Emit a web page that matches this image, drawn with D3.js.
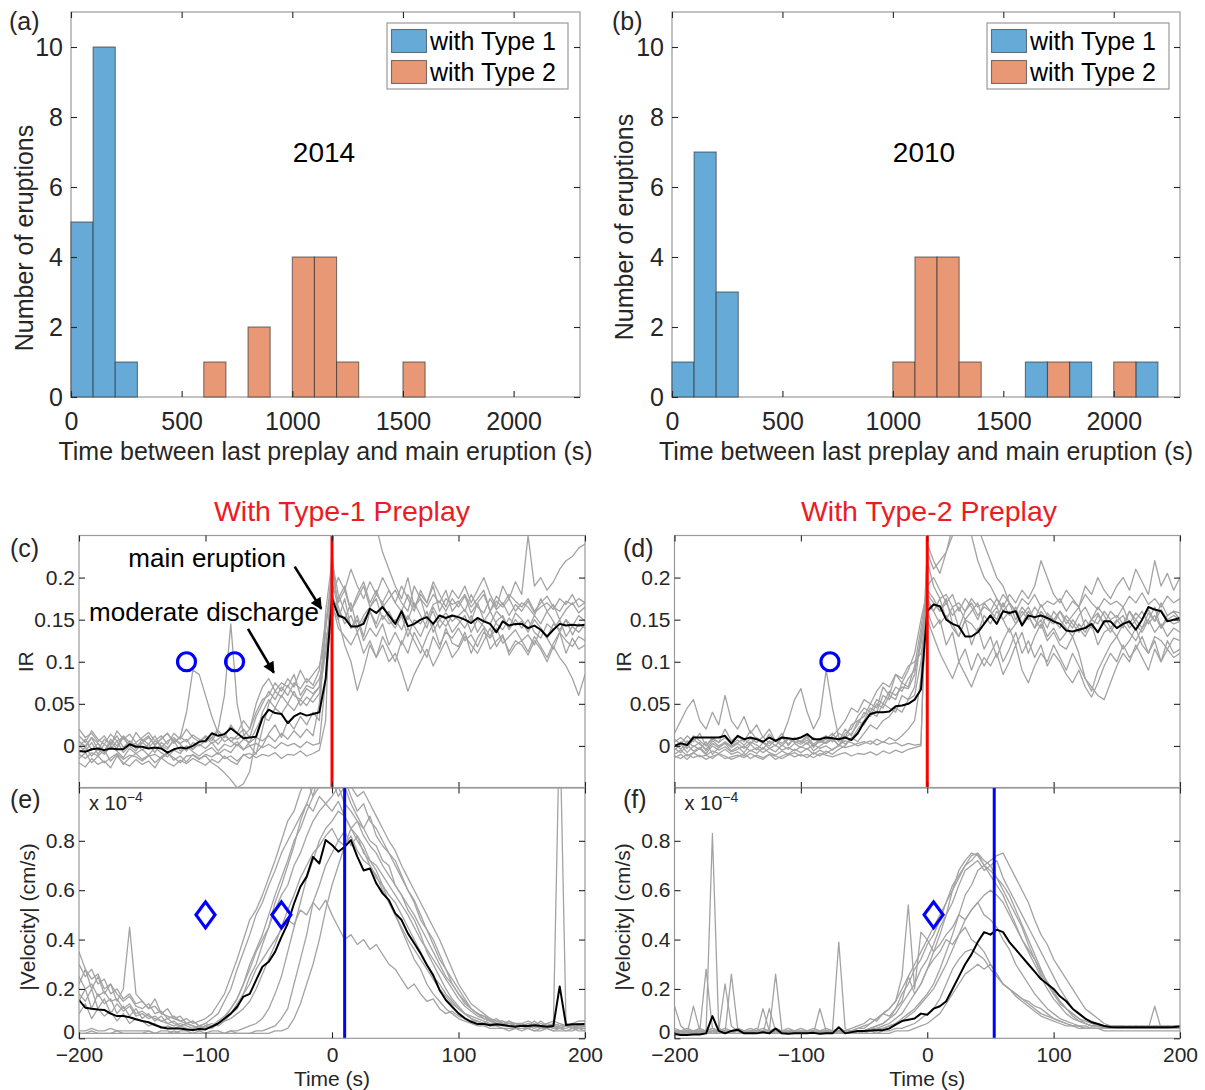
<!DOCTYPE html>
<html>
<head>
<meta charset="utf-8">
<script src="https://cdnjs.cloudflare.com/ajax/libs/d3/7.8.5/d3.min.js"></script>
<style>
  body { margin: 0; background: #fff; }
  svg text { font-family: "Liberation Sans", Arial, Helvetica, sans-serif; }
</style>
</head>
<body>
<div id="fig"></div>
<script>

// ---- histograms (a) 2014 and (b) 2010, bins of 100 s, left edges ----
const binWidth = 100;
const a_type1_start = [0, 100, 200];
const a_type1_count = [5, 10, 1];
const a_type2_start = [600, 800, 1000, 1100, 1200, 1500];
const a_type2_count = [1, 2, 4, 4, 1, 1];
const b_type1_start = [0, 100, 200, 1600, 1800, 2100];
const b_type1_count = [1, 7, 3, 1, 1, 1];
const b_type2_start = [1000, 1100, 1200, 1300, 1700, 2000];
const b_type2_count = [1, 4, 4, 1, 1, 1];
const histXTicks = [0, 500, 1000, 1500, 2000];
const histYTicks = [0, 2, 4, 6, 8, 10];
const legendLabels = ["with Type 1", "with Type 2"];

// ---- time series, sampled every 5 s from -200 to 200 s ----
const time = d3.range(-200, 205, 5);
const timeTicks = [-200, -100, 0, 100, 200];
const irTicks = [0, 0.05, 0.1, 0.15, 0.2];
const velTicks = [0, 0.2, 0.4, 0.6, 0.8];

// (c) IR, eruptions with type-1 preplay
const irType1Mean = [
  -.006,-.007,-.004,-.003,-.005,-.003,-.004,-.004,.002,-.001,
  -.001,-.003,-.002,-.003,-.008,-.004,-.002,-.003,.000,.005,
  .006,.015,.012,.014,.021,.015,.009,.010,.011,.033,
  .043,.039,.038,.027,.035,.039,.036,.038,.040,.080,
  .175,.155,.152,.142,.142,.145,.163,.158,.165,.155,
  .145,.160,.142,.145,.150,.153,.145,.155,.152,.155,
  .153,.150,.146,.152,.148,.145,.135,.148,.143,.145,
  .145,.140,.143,.138,.130,.138,.145,.143,.144,.143,
  .144];
const irType1Runs = [
  [-.010,-.015,-.008,-.012,-.020,-.014,-.009,-.016,-.011,-.013,
   -.018,-.012,-.010,-.015,-.009,-.014,-.020,-.012,-.011,-.016,
   -.010,-.013,-.008,-.015,-.012,-.018,-.011,-.009,-.014,-.010,
   -.012,-.008,-.015,-.010,-.011,-.006,-.012,-.009,-.005,.030,
   .240,.280,.300,.270,.290,.310,.280,.260,.230,.210,
   .190,.175,.200,.165,.180,.170,.190,.160,.175,.168,
   .172,.160,.180,.165,.158,.175,.162,.170,.155,.168,
   .160,.172,.158,.165,.170,.162,.175,.168,.180,.165,
   .170],
  [.005,.000,.010,-.005,.008,.002,.012,-.002,.006,.000,
   .004,.010,.002,.008,.015,.005,.010,.040,.090,.085,
   .060,.035,.015,.005,.010,.008,.012,.020,.050,.070,
   .080,.065,.075,.070,.085,.060,.072,.068,.080,.110,
   .180,.160,.150,.170,.140,.155,.165,.175,.150,.160,
   .145,.160,.150,.170,.155,.140,.165,.150,.158,.148,
   .155,.162,.148,.170,.150,.145,.160,.152,.140,.158,
   .150,.138,.155,.145,.160,.148,.135,.150,.142,.155,
   .148],
  [-.002,.008,-.005,.003,-.008,.005,-.003,.010,.000,-.006,
   .004,-.002,.006,.000,-.004,.008,.002,-.006,.004,.000,
   .006,.010,.020,.060,.145,.050,.015,.000,-.010,.020,
   .050,.065,.058,.072,.060,.055,.068,.062,.070,.140,
   .210,.170,.185,.160,.175,.190,.165,.180,.170,.185,
   .170,.160,.180,.165,.175,.150,.168,.172,.160,.175,
   .165,.178,.158,.170,.180,.160,.172,.165,.175,.160,
   .170,.165,.155,.175,.160,.168,.150,.162,.170,.158,
   .165],
  [-.015,-.008,-.020,-.012,-.005,-.018,-.010,-.022,-.014,-.009,
   -.016,-.011,-.020,-.013,-.008,-.017,-.012,-.019,-.010,-.015,
   -.012,-.020,-.025,-.032,-.040,-.050,-.045,-.030,.010,.040,
   .055,.045,.060,.050,.065,.048,.058,.052,.062,.110,
   .165,.150,.175,.140,.155,.130,.160,.145,.170,.150,
   .140,.155,.130,.150,.145,.160,.135,.150,.142,.155,
   .150,.140,.155,.135,.148,.160,.145,.138,.152,.143,
   .148,.135,.150,.140,.128,.145,.138,.150,.132,.145,
   .140],
  [.000,-.006,.004,-.010,.002,-.004,.006,-.008,.000,.003,
   -.005,.002,-.008,.004,-.002,.006,-.006,.000,-.004,.002,
   -.003,.004,-.006,.002,-.001,.005,-.004,.000,.003,-.002,
   .002,-.003,.004,.000,.003,-.002,.005,.001,.003,.080,
   .230,.150,.120,.100,.066,.090,.120,.105,.130,.115,
   .100,.125,.110,.135,.120,.105,.130,.115,.140,.122,
   .118,.135,.110,.128,.140,.115,.125,.132,.108,.120,
   .125,.112,.130,.118,.105,.122,.135,.110,.128,.115,
   .120],
  [.020,.010,.015,.005,.012,.000,.018,.008,.014,.004,
   .010,.016,.006,.012,.002,.015,.008,.020,.010,.005,
   .012,.006,.018,.010,.025,.015,.030,.020,.040,.055,
   .060,.075,.065,.080,.070,.090,.075,.085,.095,.130,
   .150,.175,.190,.160,.180,.195,.170,.185,.165,.175,
   .185,.170,.160,.190,.175,.165,.180,.170,.185,.160,
   .170,.180,.165,.175,.185,.160,.178,.168,.180,.172,
   .165,.175,.160,.170,.178,.165,.160,.172,.168,.175,
   .170],
  [-.008,-.002,-.012,-.004,-.010,.000,-.006,-.014,-.003,-.009,
   -.004,-.011,-.002,-.008,-.013,-.005,-.009,.000,-.007,-.012,
   -.006,-.002,-.010,-.004,-.008,.002,-.005,.005,.020,.035,
   .030,.045,.038,.050,.042,.055,.048,.060,.070,.120,
   .170,.140,.130,.120,.135,.110,.125,.105,.120,.100,
   .110,.090,.065,.085,.100,.115,.095,.110,.125,.105,
   .115,.130,.120,.110,.125,.140,.118,.130,.112,.125,
   .120,.108,.125,.115,.100,.118,.105,.095,.080,.060,
   .085],
  [.006,-.002,.010,.003,-.006,.008,.000,.012,.004,-.003,
   .008,.002,.012,-.002,.006,.010,.003,.008,-.004,.005,
   .010,.003,.008,.015,.005,.012,.020,.010,.035,.050,
   .065,.055,.070,.060,.075,.068,.080,.072,.090,.150,
   .180,.200,.185,.210,.190,.175,.195,.180,.200,.185,
   .170,.190,.175,.160,.185,.170,.195,.180,.165,.185,
   .175,.190,.170,.185,.200,.180,.165,.190,.175,.195,
   .180,.250,.190,.200,.185,.195,.210,.220,.225,.235,
   .240],
  [-.020,-.025,-.015,-.022,-.018,-.026,-.012,-.020,-.024,-.016,
   -.022,-.018,-.026,-.014,-.020,-.024,-.017,-.021,-.015,-.019,
   -.023,-.016,-.020,-.012,-.018,-.022,-.010,-.015,-.008,.000,
   .015,.025,.010,.030,.020,.035,.025,.040,.030,.160,
   .220,.180,.160,.140,.150,.125,.140,.130,.145,.120,
   .135,.120,.140,.125,.110,.130,.145,.120,.135,.128,
   .140,.125,.132,.118,.135,.128,.140,.122,.130,.138,
   .125,.132,.120,.140,.128,.115,.135,.125,.118,.130,
   .125],
  [.012,.004,.018,.008,.002,.014,.006,.010,.000,.016,
   .006,.012,.000,.009,.015,.003,.011,.005,.013,.008,
   .004,.010,.002,.012,.006,.000,.008,.004,.010,.006,
   .012,.005,.015,.008,.018,.010,.020,.012,.050,.140,
   .195,.165,.145,.155,.135,.150,.160,.140,.155,.145,
   .150,.138,.155,.142,.130,.148,.160,.140,.152,.135,
   .145,.155,.135,.150,.142,.130,.148,.155,.138,.150,
   .140,.150,.135,.128,.145,.138,.150,.130,.142,.135,
   .145]
];

// (d) IR, eruptions with type-2 preplay
const irType2Mean = [
  .000,.003,.001,.010,.010,.010,.010,.010,.012,.003,
  .012,.008,.010,.008,.005,.010,.006,.010,.009,.008,
  .010,.014,.008,.008,.010,.009,.008,.010,.007,.015,
  .028,.038,.040,.040,.041,.047,.048,.050,.055,.067,
  .160,.168,.166,.150,.145,.142,.130,.130,.135,.145,
  .155,.145,.160,.158,.160,.143,.155,.153,.155,.152,
  .148,.145,.137,.136,.138,.140,.145,.135,.148,.148,
  .140,.145,.148,.138,.150,.165,.162,.160,.148,.150,
  .152];
const irType2Runs = [
  [-.012,-.015,-.010,-.014,-.011,-.016,-.012,-.010,-.015,-.013,
   -.011,-.014,-.009,-.013,-.016,-.010,-.012,-.015,-.011,-.008,
   -.012,-.010,-.014,-.009,-.011,-.013,-.010,-.008,-.012,-.009,
   -.010,-.007,-.011,-.006,-.009,-.005,-.008,-.004,-.002,.000,
   .240,.220,.205,.230,.260,.280,.270,.250,.220,.200,
   .190,.175,.160,.170,.150,.165,.155,.140,.160,.150,
   .145,.160,.150,.140,.155,.165,.150,.145,.160,.150,
   .155,.145,.160,.150,.140,.158,.148,.162,.150,.155,
   .150],
  [.000,.005,-.003,.008,.002,-.004,.006,.000,.004,-.002,
   .003,-.003,.005,.001,-.004,.006,.000,.010,.030,.055,
   .068,.040,.020,.035,.090,.045,.010,.002,.008,.020,
   .030,.045,.040,.060,.055,.070,.065,.080,.090,.120,
   .170,.160,.175,.150,.165,.140,.160,.170,.155,.165,
   .160,.150,.170,.155,.165,.145,.160,.150,.168,.155,
   .150,.160,.145,.155,.165,.140,.150,.158,.145,.160,
   .152,.165,.145,.158,.150,.162,.148,.170,.155,.160,
   .158],
  [.015,.030,.045,.055,.030,.020,.040,.025,.060,.030,
   .020,.035,.015,.025,.010,.020,.005,.015,.000,.010,
   .005,.012,-.002,.008,.003,.010,.000,.015,.020,.035,
   .045,.040,.055,.050,.065,.060,.070,.068,.085,.130,
   .180,.170,.160,.175,.145,.130,.150,.120,.140,.115,
   .130,.105,.125,.140,.120,.135,.110,.130,.145,.125,
   .135,.120,.115,.130,.110,.080,.065,.090,.105,.120,
   .130,.115,.125,.140,.120,.110,.130,.125,.115,.128,
   .125],
  [-.005,.002,-.008,.000,-.004,.005,-.010,-.002,.003,-.006,
   -.001,-.008,.002,-.005,.004,-.003,-.007,.001,-.004,.003,
   -.002,.004,-.006,.000,.005,.012,.020,.030,.045,.040,
   .055,.050,.065,.075,.070,.085,.080,.095,.100,.110,
   .150,.130,.110,.095,.080,.100,.085,.070,.090,.105,
   .095,.110,.085,.100,.120,.090,.075,.095,.110,.100,
   .120,.105,.090,.110,.095,.080,.070,.060,.055,.075,
   .095,.110,.100,.120,.105,.090,.115,.100,.125,.110,
   .115],
  [.005,.010,.003,.012,.006,.000,.008,.004,.010,.002,
   .007,.001,.009,.004,.011,.003,.006,.000,.008,.005,
   .002,.007,.000,.005,.003,.008,.001,.006,.004,.000,
   .003,.006,.001,.005,.002,.004,.000,.003,.001,.002,
   .220,.190,.175,.180,.165,.170,.160,.175,.165,.170,
   .175,.165,.180,.170,.160,.175,.168,.180,.165,.172,
   .168,.175,.160,.172,.165,.180,.170,.162,.175,.168,
   .172,.165,.178,.170,.182,.168,.175,.165,.178,.170,
   .175],
  [-.010,-.005,-.012,-.008,-.003,-.011,-.006,-.009,-.004,-.010,
   -.007,-.012,-.005,-.009,-.002,-.008,-.011,-.006,-.010,-.004,
   -.008,-.003,-.010,-.005,-.009,-.004,.000,.010,.015,.025,
   .040,.035,.050,.045,.060,.055,.075,.070,.095,.140,
   .190,.200,.185,.170,.180,.160,.175,.165,.150,.170,
   .160,.175,.165,.180,.170,.185,.175,.190,.220,.200,
   .180,.170,.185,.175,.165,.190,.180,.200,.185,.175,
   .190,.200,.185,.210,.195,.180,.220,.190,.205,.185,
   .200],
  [-.014,-.010,-.016,-.008,-.013,-.011,-.015,-.009,-.012,-.016,
   -.013,-.009,-.015,-.011,-.014,-.010,-.016,-.012,-.009,-.013,
   -.010,-.014,-.008,-.012,-.006,-.010,-.004,.000,.010,.005,
   .015,.025,.020,.030,.035,.045,.040,.055,.060,.100,
   .160,.140,.150,.120,.135,.100,.115,.090,.110,.095,
   .110,.125,.100,.115,.135,.110,.125,.105,.120,.095,
   .110,.100,.085,.075,.090,.070,.058,.075,.095,.110,
   .100,.120,.105,.115,.130,.110,.125,.100,.115,.105,
   .110],
  [.008,.002,.012,.005,.015,.000,.010,.004,.020,.006,
   .012,.005,.018,.008,.003,.014,.006,.010,.002,.009,
   .004,.010,.002,.008,.012,.005,.015,.010,.025,.030,
   .035,.050,.045,.070,.060,.085,.075,.090,.110,.150,
   .185,.175,.160,.170,.155,.165,.150,.160,.170,.145,
   .155,.165,.150,.160,.145,.155,.165,.150,.140,.158,
   .150,.140,.155,.145,.135,.150,.140,.155,.145,.135,
   .148,.155,.140,.150,.160,.145,.155,.140,.150,.145,
   .148],
  [-.003,-.008,.001,-.006,-.002,-.009,.000,-.005,-.001,-.007,
   -.004,.000,-.006,-.002,-.008,-.003,.001,-.005,-.002,-.006,
   -.001,-.004,.002,-.003,.000,-.005,.001,-.002,.000,.003,
   .005,.002,.008,.004,.010,.006,.012,.020,.030,.080,
   .230,.210,.220,.230,.250,.270,.290,.280,.260,.240,
   .220,.200,.190,.170,.160,.145,.155,.140,.150,.130,
   .140,.125,.135,.150,.140,.130,.145,.120,.135,.140,
   .130,.145,.135,.125,.140,.150,.135,.145,.130,.140,
   .135],
  [.002,-.004,.006,-.001,.004,-.006,.003,-.002,.005,.000,
   .004,.008,.002,.010,.005,.000,.007,.003,.009,.004,
   .006,.002,.010,.004,.008,.015,.005,.020,.012,.030,
   .025,.040,.035,.050,.045,.040,.060,.055,.070,.130,
   .175,.160,.145,.155,.140,.130,.150,.145,.135,.155,
   .145,.160,.150,.135,.145,.160,.150,.165,.155,.140,
   .160,.150,.140,.130,.145,.135,.150,.165,.155,.140,
   .150,.140,.160,.145,.135,.150,.165,.140,.155,.160,
   .150]
];

// (e) |velocity| in 1e-4 cm/s, type-1 preplay
const velType1Mean = [
  .155,.124,.120,.117,.115,.100,.090,.090,.085,.077,
  .070,.065,.054,.045,.040,.040,.040,.036,.034,.038,
  .036,.047,.060,.080,.100,.128,.169,.180,.236,.290,
  .310,.350,.410,.465,.546,.614,.655,.735,.708,.803,
  .783,.756,.776,.803,.736,.680,.688,.628,.587,.560,
  .506,.479,.425,.385,.344,.297,.256,.196,.155,.128,
  .101,.081,.067,.058,.058,.053,.057,.054,.050,.047,
  .051,.050,.053,.050,.047,.050,.210,.054,.057,.057,
  .058];
const velType1Runs = [
  [.30,.25,.28,.22,.24,.18,.20,.16,.18,.14,
   .15,.12,.13,.10,.09,.08,.07,.08,.06,.07,
   .08,.10,.14,.18,.25,.32,.40,.48,.52,.58,
   .65,.72,.80,.88,.92,1.00,1.05,.98,1.08,1.02,
   1.05,.98,1.02,.95,.90,.85,.80,.78,.72,.70,
   .62,.58,.52,.48,.42,.35,.30,.25,.20,.16,
   .13,.10,.08,.07,.06,.08,.06,.05,.07,.05,
   .06,.05,.07,.05,.06,.05,.04,.05,.05,.04,
   .05],
  [.22,.28,.20,.25,.18,.22,.15,.20,.45,.18,
   .15,.12,.16,.10,.12,.08,.09,.06,.07,.05,
   .06,.05,.07,.09,.12,.16,.22,.28,.35,.40,
   .45,.52,.58,.62,.70,.75,.82,.88,.92,.95,
   .98,1.02,.95,.92,.88,.85,.90,.82,.78,.75,
   .70,.65,.60,.55,.48,.44,.38,.32,.28,.22,
   .18,.15,.12,.10,.09,.07,.08,.06,.07,.06,
   .05,.06,.05,.07,.05,.06,.05,.05,.06,.05,
   .05],
  [.02,.02,.03,.02,.02,.02,.03,.02,.02,.02,
   .02,.03,.02,.02,.02,.03,.02,.02,.02,.02,
   .02,.02,.02,.02,.03,.02,.02,.02,.03,.03,
   .04,.05,.08,.12,.22,.32,.42,.55,.62,.70,
   .75,.80,.78,.82,.76,.72,.70,.65,.62,.58,
   .55,.50,.45,.40,.35,.30,.25,.22,.18,.15,
   .12,.10,.08,.07,.06,.05,.05,.04,.04,.04,
   .04,.04,.03,.04,.04,.03,.04,.03,.03,.04,
   .03],
  [.10,.14,.08,.12,.09,.11,.07,.10,.06,.08,
   .07,.05,.06,.04,.05,.04,.05,.04,.03,.04,
   .04,.05,.06,.08,.10,.14,.18,.22,.28,.32,
   .36,.40,.44,.48,.46,.52,.50,.55,.52,.56,
   .50,.45,.40,.42,.38,.40,.36,.38,.34,.30,
   .28,.24,.20,.22,.18,.15,.16,.12,.10,.11,
   .09,.08,.07,.07,.06,.06,.05,.06,.05,.05,
   .05,.04,.05,.04,.05,.04,.04,.05,.04,.04,
   .04],
  [.18,.15,.20,.12,.16,.10,.14,.11,.13,.09,
   .10,.08,.09,.07,.08,.06,.05,.06,.05,.04,
   .05,.04,.06,.07,.10,.12,.18,.25,.30,.38,
   .45,.55,.62,.70,.78,.88,.95,1.02,1.05,1.10,
   1.08,1.02,1.05,.98,.92,.95,.88,.85,.80,.75,
   .72,.66,.60,.56,.50,.44,.40,.34,.28,.24,
   .20,.16,.12,.10,.09,.08,.07,.06,.06,.05,
   .06,.05,.05,.06,.05,.05,.06,.05,.05,.06,
   .05],
  [.03,.03,.04,.03,.03,.04,.03,.03,.03,.03,
   .03,.03,.02,.03,.03,.02,.03,.03,.02,.03,
   .02,.03,.03,.02,.03,.03,.04,.05,.06,.08,
   .12,.18,.25,.35,.45,.55,.65,.72,.80,.85,
   .88,.92,.90,.85,.82,.78,.72,.68,.62,.55,
   .50,.44,.38,.32,.28,.22,.18,.15,.12,.10,
   .08,.07,.06,.05,.05,.04,.04,.04,.03,.04,
   .03,.04,.03,.03,.04,.03,.03,.03,.04,.03,
   .03],
  [.35,.28,.24,.26,.20,.22,.18,.15,.17,.13,
   .12,.14,.10,.11,.08,.09,.07,.06,.07,.05,
   .06,.08,.10,.15,.20,.28,.35,.42,.50,.55,
   .62,.68,.75,.80,.85,.90,.95,.92,.98,.95,
   .92,.96,.90,.85,.88,.82,.78,.75,.70,.66,
   .62,.58,.54,.50,.45,.40,.35,.30,.25,.22,
   .18,.14,.12,.10,.08,.07,.06,.06,.05,.06,
   .05,.06,.05,.05,.06,.05,1.30,.06,.05,.05,
   .05],
  [.15,.20,.12,.18,.14,.16,.10,.13,.09,.12,
   .08,.10,.07,.09,.06,.07,.05,.06,.05,.04,
   .05,.06,.05,.07,.08,.10,.12,.15,.20,.26,
   .32,.38,.45,.52,.58,.65,.70,.75,.78,.82,
   .85,.80,.84,.78,.82,.75,.72,.70,.66,.62,
   .58,.54,.50,.45,.40,.36,.32,.28,.24,.20,
   .16,.13,.11,.09,.08,.07,.06,.06,.05,.05,
   .05,.05,.04,.05,.05,.04,.05,.05,.04,.05,
   .05],
  [.02,.02,.02,.02,.02,.02,.02,.02,.02,.02,
   .02,.02,.02,.02,.02,.02,.02,.02,.02,.02,
   .02,.02,.02,.02,.02,.02,.02,.02,.02,.02,
   .02,.03,.03,.04,.08,.14,.22,.30,.40,.52,
   .62,.70,.78,.85,.80,.76,.70,.66,.60,.55,
   .50,.45,.40,.36,.32,.28,.24,.20,.17,.14,
   .12,.10,.09,.08,.07,.06,.06,.05,.05,.05,
   .05,.04,.05,.04,.04,.05,.04,.04,.05,.04,
   .04],
  [.25,.20,.22,.17,.19,.15,.16,.12,.14,.10,
   .11,.09,.08,.07,.06,.05,.06,.05,.04,.05,
   .04,.05,.06,.08,.12,.16,.22,.30,.36,.42,
   .50,.58,.65,.72,.80,.85,.92,.98,1.02,1.05,
   1.10,1.05,1.08,1.02,.98,1.00,.95,.90,.85,.80,
   .76,.70,.65,.60,.55,.50,.45,.40,.34,.28,
   .22,.18,.14,.12,.10,.08,.07,.07,.06,.06,
   .06,.07,.06,.05,.06,.07,.06,.05,.06,.07,
   .07]
];

// (f) |velocity| in 1e-4 cm/s, type-2 preplay
const velType2Mean = [
  .017,.013,.013,.015,.015,.020,.090,.030,.020,.030,
  .035,.020,.020,.020,.025,.020,.040,.020,.018,.020,
  .020,.020,.022,.018,.020,.020,.045,.020,.025,.030,
  .030,.032,.033,.033,.040,.055,.070,.075,.080,.100,
  .095,.120,.130,.150,.200,.250,.300,.340,.390,.430,
  .420,.440,.430,.390,.360,.330,.300,.270,.240,.220,
  .200,.170,.150,.120,.100,.080,.065,.058,.050,.046,
  .045,.045,.045,.045,.045,.045,.045,.045,.045,.046,
  .048];
const velType2Runs = [
  [.13,.05,.03,.02,.03,.03,.83,.04,.03,.02,
   .03,.02,.03,.02,.02,.03,.02,.02,.03,.02,
   .02,.03,.02,.02,.03,.02,.03,.02,.03,.04,
   .05,.06,.08,.10,.12,.15,.20,.25,.30,.35,
   .40,.45,.50,.55,.60,.65,.70,.72,.75,.70,
   .68,.65,.60,.55,.50,.45,.38,.32,.26,.22,
   .18,.14,.12,.09,.07,.06,.05,.05,.04,.04,
   .04,.04,.05,.04,.04,.04,.05,.04,.04,.04,
   .05],
  [.03,.02,.03,.03,.02,.03,.04,.03,.22,.05,
   .03,.02,.03,.04,.02,.03,.26,.03,.02,.03,
   .02,.03,.02,.03,.02,.03,.02,.03,.02,.03,
   .03,.04,.05,.06,.08,.10,.14,.18,.22,.28,
   .32,.38,.45,.50,.55,.62,.68,.70,.72,.68,
   .70,.72,.65,.60,.55,.50,.45,.40,.35,.30,
   .25,.20,.16,.12,.10,.08,.07,.06,.05,.05,
   .04,.05,.04,.04,.05,.04,.04,.04,.05,.04,
   .04],
  [.02,.03,.02,.13,.03,.28,.04,.03,.02,.26,
   .04,.03,.02,.03,.02,.12,.03,.02,.03,.02,
   .02,.03,.02,.03,.02,.03,.39,.04,.02,.03,
   .03,.04,.05,.06,.08,.12,.18,.22,.28,.32,
   .38,.42,.48,.55,.62,.66,.70,.74,.75,.72,
   .70,.65,.62,.58,.52,.46,.40,.34,.28,.22,
   .18,.15,.12,.10,.08,.06,.05,.05,.04,.05,
   .04,.04,.04,.05,.04,.04,.13,.04,.04,.04,
   .04],
  [.02,.03,.02,.03,.02,.03,.02,.03,.02,.03,
   .03,.02,.03,.02,.12,.03,.02,.03,.02,.03,
   .02,.03,.02,.12,.03,.02,.03,.02,.03,.04,
   .04,.06,.08,.10,.12,.15,.25,.54,.20,.43,
   .40,.35,.38,.42,.45,.50,.48,.52,.55,.50,
   .48,.45,.40,.36,.30,.26,.22,.18,.15,.12,
   .10,.08,.07,.06,.05,.05,.04,.04,.04,.04,
   .04,.04,.04,.04,.04,.04,.04,.04,.04,.04,
   .04],
  [.02,.02,.02,.02,.02,.02,.02,.02,.02,.02,
   .02,.02,.02,.02,.02,.02,.02,.02,.02,.02,
   .02,.02,.02,.02,.02,.02,.02,.02,.02,.02,
   .02,.02,.02,.02,.02,.03,.03,.03,.04,.05,
   .06,.08,.10,.14,.18,.22,.26,.28,.30,.28,
   .30,.26,.22,.20,.18,.16,.15,.13,.12,.10,
   .08,.07,.06,.05,.05,.04,.04,.04,.03,.03,
   .03,.03,.03,.03,.03,.03,.03,.03,.03,.03,
   .03],
  [.03,.03,.02,.03,.03,.02,.03,.03,.02,.03,
   .03,.02,.03,.03,.02,.03,.03,.02,.03,.03,
   .02,.03,.03,.02,.03,.03,.02,.03,.03,.02,
   .03,.03,.02,.03,.03,.04,.04,.05,.06,.08,
   .10,.12,.16,.22,.28,.32,.35,.36,.34,.32,
   .28,.25,.22,.20,.18,.16,.14,.12,.10,.09,
   .08,.07,.06,.05,.05,.04,.04,.04,.04,.04,
   .04,.04,.04,.04,.04,.04,.04,.04,.04,.04,
   .04],
  [.03,.02,.03,.02,.03,.02,.03,.02,.03,.02,
   .03,.02,.03,.02,.03,.02,.03,.02,.03,.02,
   .03,.02,.03,.02,.03,.02,.03,.02,.03,.02,
   .03,.03,.04,.04,.05,.06,.08,.10,.12,.15,
   .18,.22,.28,.35,.42,.50,.58,.62,.68,.70,
   .72,.74,.75,.70,.65,.60,.55,.48,.42,.38,
   .32,.28,.24,.20,.16,.12,.10,.08,.06,.05,
   .05,.05,.04,.05,.04,.05,.04,.05,.04,.05,
   .05],
  [.04,.03,.04,.03,.04,.03,.04,.03,.04,.03,
   .04,.03,.04,.03,.04,.03,.04,.03,.04,.03,
   .04,.03,.04,.03,.04,.03,.04,.03,.04,.05,
   .06,.08,.07,.10,.09,.12,.15,.25,.18,.22,
   .28,.32,.35,.40,.38,.42,.45,.40,.38,.35,
   .30,.26,.22,.20,.17,.15,.13,.11,.09,.08,
   .07,.06,.05,.05,.04,.04,.04,.04,.04,.04,
   .04,.04,.04,.04,.04,.04,.04,.04,.04,.04,
   .04],
  [.03,.03,.03,.03,.03,.03,.03,.03,.03,.03,
   .03,.03,.03,.03,.03,.03,.03,.03,.03,.03,
   .03,.03,.03,.03,.03,.03,.03,.03,.03,.03,
   .03,.04,.04,.05,.06,.08,.10,.14,.18,.22,
   .28,.35,.42,.50,.60,.68,.72,.75,.74,.70,
   .66,.62,.58,.52,.46,.40,.35,.30,.25,.20,
   .16,.13,.10,.08,.07,.06,.05,.05,.05,.05,
   .05,.05,.05,.05,.05,.05,.05,.05,.05,.05,
   .05],
  [.02,.02,.03,.02,.02,.03,.02,.02,.03,.02,
   .02,.03,.02,.02,.03,.02,.02,.03,.02,.02,
   .03,.02,.02,.03,.02,.02,.03,.02,.02,.03,
   .02,.03,.03,.04,.05,.06,.07,.09,.11,.14,
   .17,.20,.25,.30,.36,.42,.48,.52,.55,.58,
   .60,.58,.55,.50,.45,.40,.36,.32,.27,.23,
   .19,.15,.12,.10,.08,.07,.06,.05,.05,.04,
   .04,.04,.04,.04,.04,.04,.04,.04,.04,.04,
   .04]
];

// preplay markers (time, value) and reference times
const circlesType1 = [[-115, 0.1], [-77, 0.1]];
const circlesType2 = [[-77, 0.1]];
const diamondsType1 = [[-100, 0.5], [-40, 0.5]];
const diamondsType2 = [[5, 0.5]];
const eruptionTime = 0;
const velPeakType1 = 10;
const velPeakType2 = 53;

const BLUE_BAR = "#66aad7", ORANGE_BAR = "#e89875";
const GRAY = "#a3a3a3", BOX = "#9a9a9a", INK = "#262626";

const svg = d3.select("#fig").append("svg")
  .attr("width", 1205).attr("height", 1090)
  .style("background", "#fff");

const defs = svg.append("defs");
defs.append("marker").attr("id", "arrow")
  .attr("viewBox", "0 0 10 10").attr("refX", 9).attr("refY", 5)
  .attr("markerWidth", 5.5).attr("markerHeight", 4.5).attr("orient", "auto")
  .append("path").attr("d", "M0,0 L10,5 L0,10 z").attr("fill", "#000");

function styleAxis(g, size) {
  g.attr("color", INK).attr("font-size", size).attr("font-family", null);
  g.select(".domain").remove();
  g.selectAll(".tick line").attr("stroke-width", 1.1);
}

function drawBox(g, x0, x1, yTop, yBot) {
  g.append("rect").attr("x", x0).attr("y", yTop)
    .attr("width", x1 - x0).attr("height", yBot - yTop)
    .attr("fill", "none").attr("stroke", BOX).attr("stroke-width", 1.2);
}

function drawHist(o) {
  const g = svg.append("g");
  const x = d3.scaleLinear().domain([0, 2300]).range([o.x0, o.x1]);
  const y = d3.scaleLinear().domain([0, 11]).range([397, 12]);

  drawBox(g, o.x0, o.x1, 12, 397);

  o.series.forEach(s => {
    g.selectAll(null)
      .data(s.start.map((st, i) => ({st: st, n: s.count[i]})))
      .enter().append("rect")
        .attr("x", d => x(d.st))
        .attr("width", d => x(d.st + binWidth) - x(d.st))
        .attr("y", d => y(d.n))
        .attr("height", d => y(0) - y(d.n))
        .attr("fill", s.color)
        .attr("stroke", "#2a2a2a").attr("stroke-opacity", 0.6)
        .attr("stroke-width", 1.1);
  });

  g.append("g").attr("transform", "translate(0," + y(0) + ")")
    .call(d3.axisBottom(x).tickValues(histXTicks).tickSizeInner(-6).tickSizeOuter(0).tickPadding(15)
      .tickFormat(d3.format("d")))
    .call(a => styleAxis(a, 25));
  g.append("g").attr("transform", "translate(0," + y(11) + ")")
    .call(d3.axisTop(x).tickValues(histXTicks).tickSizeInner(-6).tickSizeOuter(0).tickFormat(""))
    .call(a => styleAxis(a, 25));
  g.append("g").attr("transform", "translate(" + o.x0 + ",0)")
    .call(d3.axisLeft(y).tickValues(histYTicks).tickSizeInner(-6).tickSizeOuter(0).tickPadding(8))
    .call(a => styleAxis(a, 25));
  g.append("g").attr("transform", "translate(" + o.x1 + ",0)")
    .call(d3.axisRight(y).tickValues(histYTicks).tickSizeInner(-6).tickSizeOuter(0).tickFormat(""))
    .call(a => styleAxis(a, 25));

  // x label
  g.append("text").attr("x", (o.x0 + o.x1) / 2).attr("y", 460)
    .attr("text-anchor", "middle").attr("font-size", 25).attr("fill", INK)
    .text("Time between last preplay and main eruption (s)");
  // y label
  g.append("text").attr("transform", "translate(" + o.ylabX + "," + o.ylabY + ") rotate(-90)")
    .attr("text-anchor", "middle").attr("font-size", 25).attr("fill", INK)
    .text("Number of eruptions");
  // year
  g.append("text").attr("x", o.yearX).attr("y", 162)
    .attr("text-anchor", "middle").attr("font-size", 28).attr("fill", "#000")
    .text(o.year);
  // panel letter
  g.append("text").attr("x", o.labX).attr("y", 30)
    .attr("font-size", 25).attr("fill", INK).text(o.label);

  // legend
  const lg = g.append("g");
  lg.append("rect").attr("x", o.legX).attr("y", 23).attr("width", o.legW).attr("height", 66)
    .attr("fill", "#fff").attr("stroke", BOX).attr("stroke-width", 1.2);
  [BLUE_BAR, ORANGE_BAR].forEach((c, i) => {
    lg.append("rect").attr("x", o.legX + 4.5).attr("y", 29.5 + i * 31)
      .attr("width", 35).attr("height", 23)
      .attr("fill", c).attr("stroke", "#2a2a2a").attr("stroke-opacity", 0.6).attr("stroke-width", 1.1);
    lg.append("text").attr("x", o.legX + 43).attr("y", 50 + i * 31)
      .attr("font-size", 25).attr("fill", "#000").text(legendLabels[i]);
  });
}

drawHist({
  x0: 71, x1: 580, label: "(a)", labX: 9, year: "2014", yearX: 324,
  ylabX: 33, ylabY: 238, legX: 387, legW: 181,
  series: [
    {start: a_type1_start, count: a_type1_count, color: BLUE_BAR},
    {start: a_type2_start, count: a_type2_count, color: ORANGE_BAR}
  ]
});
drawHist({
  x0: 672, x1: 1180, label: "(b)", labX: 612, year: "2010", yearX: 924,
  ylabX: 633, ylabY: 227, legX: 987, legW: 182,
  series: [
    {start: b_type1_start, count: b_type1_count, color: BLUE_BAR},
    {start: b_type2_start, count: b_type2_count, color: ORANGE_BAR}
  ]
});

let clipCount = 0;
function drawTrace(o) {
  const g = svg.append("g");
  const x = d3.scaleLinear().domain([-200, 200]).range([o.x0, o.x1]);
  const y = d3.scaleLinear().domain(o.yDomain).range([o.yBot, o.yTop]);
  const id = "clip" + (clipCount++);
  defs.append("clipPath").attr("id", id).append("rect")
    .attr("x", o.x0).attr("y", o.yTop).attr("width", o.x1 - o.x0).attr("height", o.yBot - o.yTop);

  const line = d3.line().x((d, i) => x(time[i])).y(d => y(d));
  const plot = g.append("g").attr("clip-path", "url(#" + id + ")");

  plot.selectAll(".run").data(o.runs).enter().append("path")
    .attr("class", "run").attr("d", d => line(d))
    .attr("fill", "none").attr("stroke", GRAY).attr("stroke-width", 1.3)
    .attr("stroke-linejoin", "round");
  plot.append("path").attr("d", line(o.mean))
    .attr("fill", "none").attr("stroke", "#000").attr("stroke-width", 2)
    .attr("stroke-linejoin", "round");

  g.append("line").attr("x1", x(o.vline)).attr("x2", x(o.vline))
    .attr("y1", o.yTop).attr("y2", o.yBot)
    .attr("stroke", o.vcolor).attr("stroke-width", 3);

  if (o.shape === "circle") {
    g.selectAll(".mk").data(o.markers).enter().append("circle")
      .attr("cx", d => x(d[0])).attr("cy", d => y(d[1])).attr("r", 9)
      .attr("fill", "none").attr("stroke", "#0000ff").attr("stroke-width", 3.2);
  } else {
    g.selectAll(".mk").data(o.markers).enter().append("path")
      .attr("transform", d => "translate(" + x(d[0]) + "," + y(d[1]) + ")")
      .attr("d", "M0,-13 L9.5,0 L0,13 L-9.5,0 Z")
      .attr("fill", "none").attr("stroke", "#0000ff").attr("stroke-width", 3.2);
  }

  drawBox(g, o.x0, o.x1, o.yTop, o.yBot);
  const fmt = d3.format("~g");
  g.append("g").attr("transform", "translate(0," + o.yBot + ")")
    .call(d3.axisBottom(x).tickValues(timeTicks).tickSizeInner(-6).tickSizeOuter(0).tickPadding(9)
      .tickFormat(o.xLabels ? null : ""))
    .call(a => styleAxis(a, 21));
  g.append("g").attr("transform", "translate(0," + o.yTop + ")")
    .call(d3.axisTop(x).tickValues(timeTicks).tickSizeInner(-6).tickSizeOuter(0).tickFormat(""))
    .call(a => styleAxis(a, 21));
  const yl = g.append("g").attr("transform", "translate(" + o.x0 + ",0)")
    .call(d3.axisLeft(y).tickValues(o.yTicks).tickSizeInner(-6).tickSizeOuter(0).tickPadding(4).tickFormat(fmt))
    .call(a => styleAxis(a, 21));
  // the corner "0" sits a touch higher so it clears the time tick labels
  if (o.xLabels) yl.selectAll(".tick text").filter(d => d === 0).attr("dy", "0.02em");
  g.append("g").attr("transform", "translate(" + o.x1 + ",0)")
    .call(d3.axisRight(y).tickValues(o.yTicks).tickSizeInner(-6).tickSizeOuter(0).tickFormat(""))
    .call(a => styleAxis(a, 21));

  g.append("text").attr("transform", "translate(" + o.ylabX + "," + ((o.yTop + o.yBot) / 2 + o.ylabDy) + ") rotate(-90)")
    .attr("text-anchor", "middle").attr("font-size", 21).attr("fill", INK).text(o.ylabel);
  g.append("text").attr("x", o.labX).attr("y", o.labY)
    .attr("font-size", 25).attr("fill", INK).text(o.label);

  if (o.xLabels) {
    g.append("text").attr("x", x(0)).attr("y", 1086)
      .attr("text-anchor", "middle").attr("font-size", 21).attr("fill", INK).text("Time (s)");
    const e = g.append("text").attr("x", o.x0 + 10).attr("y", o.yTop + 22)
      .attr("font-size", 20).attr("fill", INK);
    e.append("tspan").text("x 10");
    e.append("tspan").attr("font-size", 14).attr("dy", -8).text("\u22124");
  }
  return {x: x, y: y, g: g};
}

const pc = drawTrace({
  x0: 79, x1: 585, yTop: 535.5, yBot: 788, yDomain: [-0.05, 0.25], yTicks: irTicks,
  runs: irType1Runs, mean: irType1Mean, vline: eruptionTime, vcolor: "#ff0000",
  markers: circlesType1, shape: "circle", xLabels: false,
  ylabel: "IR", ylabX: 32.5, ylabDy: 0, label: "(c)", labX: 10, labY: 557
});
drawTrace({
  x0: 674.5, x1: 1180, yTop: 535.5, yBot: 788, yDomain: [-0.05, 0.25], yTicks: irTicks,
  runs: irType2Runs, mean: irType2Mean, vline: eruptionTime, vcolor: "#ff0000",
  markers: circlesType2, shape: "circle", xLabels: false,
  ylabel: "IR", ylabX: 631, ylabDy: 0, label: "(d)", labX: 623, labY: 557
});
drawTrace({
  x0: 79, x1: 585, yTop: 787.5, yBot: 1038.3, yDomain: [0, 1.016], yTicks: velTicks,
  runs: velType1Runs, mean: velType1Mean, vline: velPeakType1, vcolor: "#0000ff",
  markers: diamondsType1, shape: "diamond", xLabels: true,
  ylabel: "|Velocity| (cm/s)", ylabX: 35, ylabDy: 4, label: "(e)", labX: 10, labY: 808
});
drawTrace({
  x0: 674.5, x1: 1180, yTop: 787.5, yBot: 1038.3, yDomain: [0, 1.016], yTicks: velTicks,
  runs: velType2Runs, mean: velType2Mean, vline: velPeakType2, vcolor: "#0000ff",
  markers: diamondsType2, shape: "diamond", xLabels: true,
  ylabel: "|Velocity| (cm/s)", ylabX: 630, ylabDy: 4, label: "(f)", labX: 623, labY: 808
});

// titles above (c) and (d)
svg.append("text").attr("x", 342).attr("y", 521).attr("text-anchor", "middle")
  .attr("font-size", 28.5).attr("fill", "#ec1c24").text("With Type-1 Preplay");
svg.append("text").attr("x", 929).attr("y", 521).attr("text-anchor", "middle")
  .attr("font-size", 28.5).attr("fill", "#ec1c24").text("With Type-2 Preplay");

// annotations in (c), placed in data coordinates
const ann = pc.g.append("g");
ann.append("text").attr("x", pc.x(-161)).attr("y", pc.y(0.212))
  .attr("font-size", 26).attr("fill", "#000").text("main eruption");
ann.append("text").attr("x", pc.x(-192)).attr("y", pc.y(0.148))
  .attr("font-size", 26).attr("fill", "#000").text("moderate discharge");
[[[-29.5, 0.213], [-8.5, 0.163]], [[-66.4, 0.139], [-46, 0.087]]].forEach(a => {
  ann.append("line")
    .attr("x1", pc.x(a[0][0])).attr("y1", pc.y(a[0][1]))
    .attr("x2", pc.x(a[1][0])).attr("y2", pc.y(a[1][1]))
    .attr("stroke", "#000").attr("stroke-width", 2.6)
    .attr("marker-end", "url(#arrow)");
});

</script>
</body>
</html>
